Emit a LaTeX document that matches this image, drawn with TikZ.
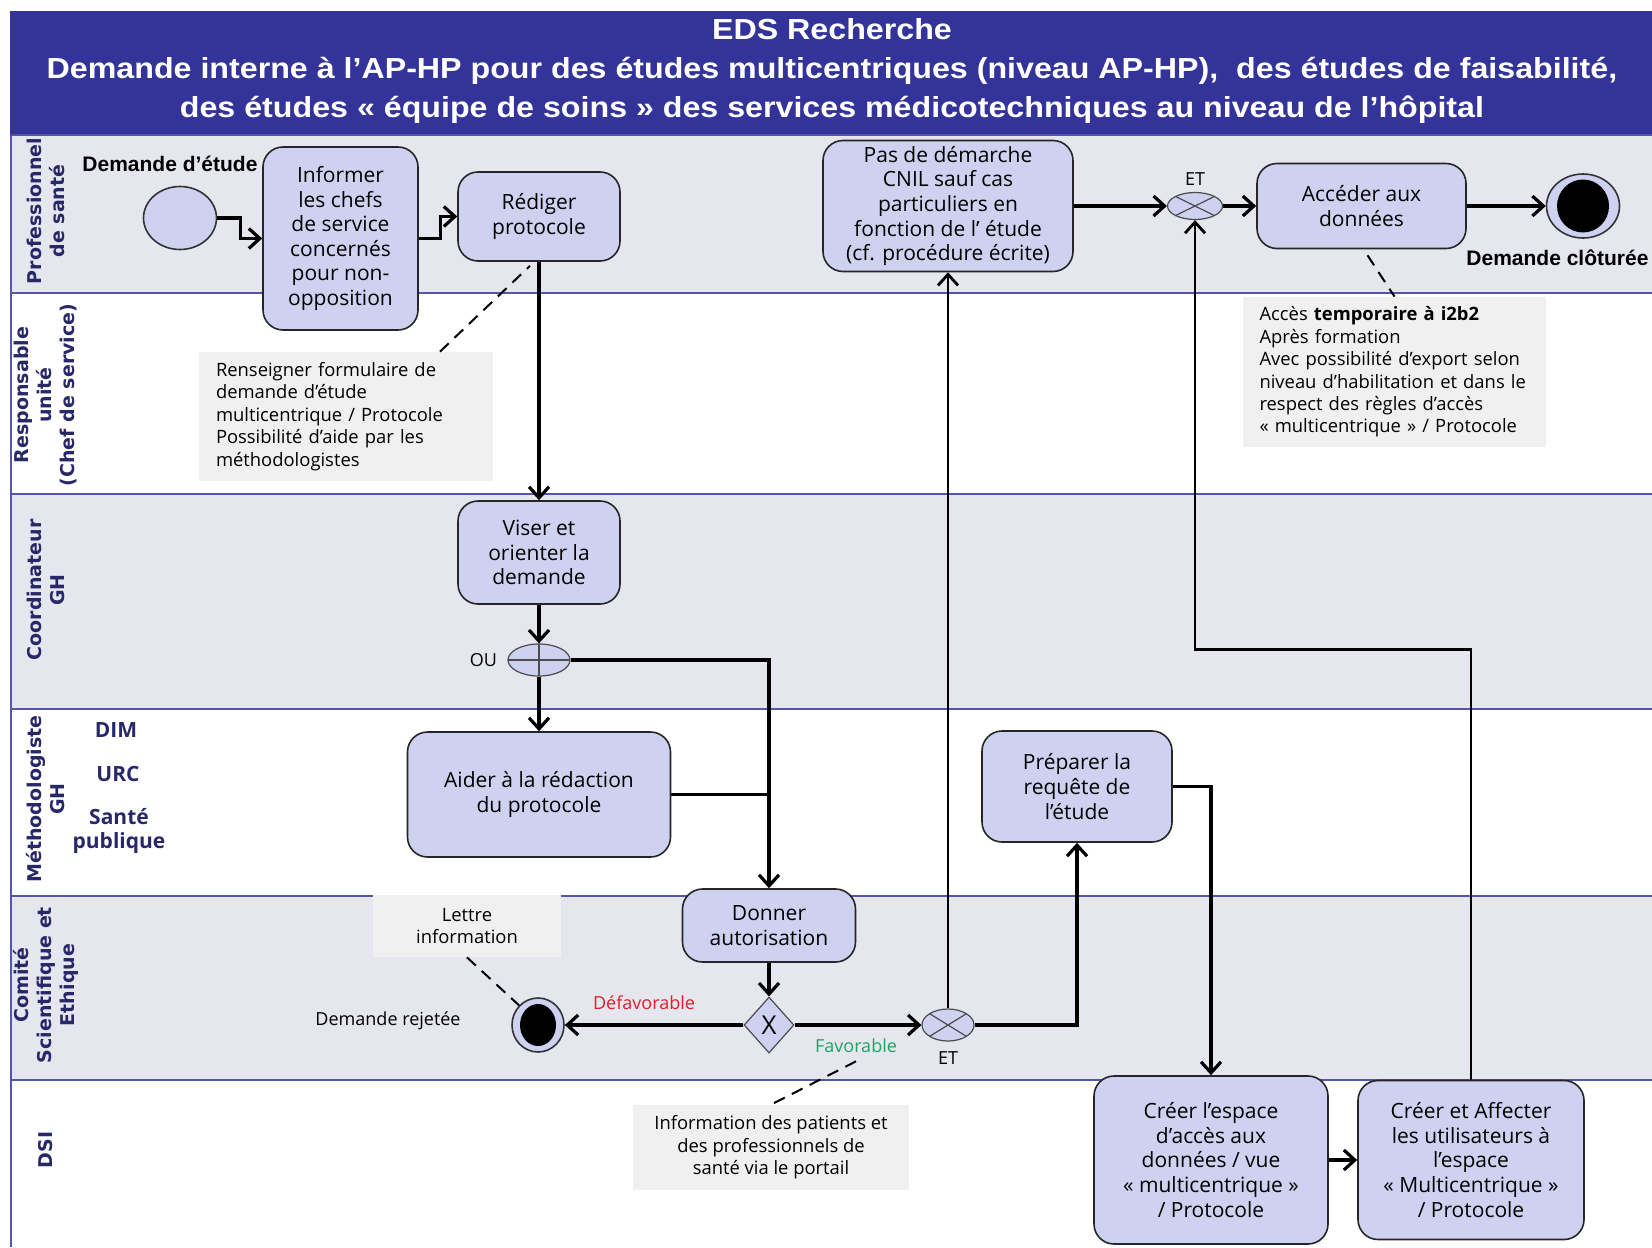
\documentclass[tikz,border=0pt]{standalone}
\usepackage{fontspec}
\setmainfont{Open Sans}
\newfontfamily\titrefont{Liberation Sans}
\newfontfamily\bandeaufont[FakeStretch=1.11]{Liberation Sans}
\newfontfamily\couloirfont{DejaVu Sans}
\usetikzlibrary{positioning,shapes.geometric,arrows.meta}

\definecolor{bandeau}{RGB}{51,51,153}
\definecolor{couloir}{RGB}{229,230,238}
\definecolor{trait}{RGB}{85,85,170}
\definecolor{lavande}{RGB}{207,209,240}
\definecolor{notegris}{RGB}{240,240,240}
\definecolor{marine}{RGB}{40,40,105}
\definecolor{rouge}{RGB}{225,30,40}
\definecolor{vert}{RGB}{30,165,100}

\tikzset{
		>={Straight Barb[length=5.5pt,width=10pt]},
		activite/.style={
			rectangle,
			rounded corners=10pt,
			fill=lavande,
			draw=black!85, line width=0.8pt,
			align=center,
			inner sep=2pt,
			font=\fontsize{10.5}{12.3}\selectfont},
		note/.style={
			rectangle,
			fill=notegris,
			font=\fontsize{9.2}{11.2}\selectfont},
		porte/.style={ellipse, draw=black!70, fill=lavande, line width=0.6pt, inner sep=0pt},
		porteet/.style={porte, path picture={
			\draw[black!70, line width=0.6pt] (path picture bounding box.north west) -- (path picture bounding box.south east)
				(path picture bounding box.north east) -- (path picture bounding box.south west);}},
		porteou/.style={porte, path picture={
			\draw[black!70, line width=0.6pt] (path picture bounding box.west) -- (path picture bounding box.east)
				(path picture bounding box.north) -- (path picture bounding box.south);}},
		xou/.style={diamond, draw=black!70, fill=lavande, line width=0.6pt, inner sep=0pt,
			font=\fontsize{13}{13}\selectfont},
		debutst/.style={ellipse, draw=black!80, fill=lavande, line width=0.8pt, inner sep=0pt},
		fin/.style 2 args={ellipse, draw=black!80, fill=lavande, line width=0.8pt, inner sep=0pt,
			path picture={\fill[black] (path picture bounding box.center) ellipse (#1 and #2);}},
		flux/.style={draw, line width=1.6pt, ->},
		lien/.style={draw, line width=1pt, dash pattern=on 6pt off 4pt},
		separation/.style={draw=trait, line width=1.2pt},
		couloirlbl/.style={rotate=90, align=center, text=marine,
			font=\couloirfont\bfseries\fontsize{9.5}{11.5}\selectfont},
		groupe/.style={align=center, text=marine, font=\bfseries\fontsize{10.5}{12}\selectfont},
		etiq/.style={font=\fontsize{9}{10}\selectfont, inner sep=1pt},
		etiqgras/.style={font=\titrefont\bfseries\fontsize{10.5}{12}\selectfont, inner sep=0pt},
		titre/.style={align=center, text=white, font=\bandeaufont\bfseries\fontsize{14.5}{19.5}\selectfont},
	}

\begin{document}
\begin{tikzpicture}[x=0.5pt, y=-0.5pt, node distance=2pt]
	\useasboundingbox (0,0) rectangle (1652,1247);

	%% bandeau et couloirs
	\fill[bandeau] (10,11) rectangle (1652,135);
	\node[titre] (titre) at (832,71) {EDS Recherche\\Demande interne à l’AP-HP pour des études multicentriques (niveau AP-HP),~ des études de faisabilité,\\des études « équipe de soins » des services médicotechniques au niveau de l’hôpital};
	\foreach \ya/\yb in {135/293,494/709,896/1080}
		\fill[couloir] (11,\ya) rectangle (1652,\yb);
	\foreach \y in {135,293,494,709,896,1080}
		\draw[separation] (11,\y) -- (1652,\y);
	\draw[separation] (11,135) -- (11,1247);
	\foreach \y/\nom in {211/{Professionnel\\de santé}, 395/{Responsable\\unité\\(Chef de service)},
			590/{Coordinateur\\GH}, 799/{Méthodologiste\\GH}, 985/{Comité\\Scientifique et\\Ethique}, 1150/{DSI}}
		\node[couloirlbl] (c\y) at (46,\y) {\nom};
	\node[groupe] (dim) at (116,730) {DIM};
	\node[groupe] (urc) at (118,774) {URC};
	\node[groupe] (sp) at (119,831) {Santé\\publique};

	%% activites
	\node[debutst, minimum width=36.5pt, minimum height=31.5pt] (debut) at (180,218) {};
	\node[etiqgras] (lbldebut) at (170,164) {Demande d’étude};
	\node[activite, minimum width=77.5pt, minimum height=91.5pt] (informer) at (340.5,238.5) {Informer\\les chefs\\de service\\concernés\\pour non-\\opposition};
	\node[activite, minimum width=81pt, minimum height=44.5pt] (rediger) at (539,216.5) {Rédiger\\protocole};
	\node[activite, minimum width=81pt, minimum height=51.5pt] (viser) at (539,552.5) {Viser et\\orienter la\\demande};
	\node[porteou, minimum width=31pt, minimum height=16pt] (ou) at (539,660) {};
	\node[etiq, left=4pt of ou] (lblou) {OU};
	\node[activite, minimum width=131.5pt, minimum height=62.5pt] (aider) at (539,794.5) {Aider à la rédaction\\du protocole};
	\node[activite, minimum width=86.5pt, minimum height=36.5pt] (donner) at (769,925.5) {Donner\\autorisation};
	\node[xou, minimum width=25pt, minimum height=28pt] (xou) at (769,1025) {X};
	\node[fin={9pt}{10.5pt}, minimum width=26pt, minimum height=27pt] (rejet) at (538,1025) {};
	\node[etiq] (lblrejet) at (388,1021) {Demande rejetée};
	\node[etiq, text=rouge] (defav) at (644,1003) {Défavorable};
	\node[etiq, text=vert] (fav) at (856,1046) {Favorable};
	\node[porteet, minimum width=26pt, minimum height=16pt] (et2) at (948,1025) {};
	\node[etiq, below=4pt of et2] (lblet2) {ET};
	\node[activite, minimum width=125pt, minimum height=65.5pt] (pas) at (948,206) {Pas de démarche\\CNIL sauf cas\\particuliers en\\fonction de l’ étude\\(cf. procédure écrite)};
	\node[porteet, minimum width=27.5pt, minimum height=13.5pt] (et1) at (1195,206) {};
	\node[etiq, above=2pt of et1] (lblet1) {ET};
	\node[activite, minimum width=104.5pt, minimum height=42.5pt] (acceder) at (1361.5,206) {Accéder aux\\données};
	\node[fin={13pt}{13.25pt}, minimum width=36.5pt, minimum height=32pt] (cloture) at (1583,206) {};
	\node[etiqgras, anchor=west] (lblcloture) at (1466,258) {Demande clôturée};
	\node[activite, minimum width=95pt, minimum height=55.5pt] (preparer) at (1077,786.5) {Préparer la\\requête de\\l’étude};
	\node[activite, minimum width=117pt, minimum height=84pt] (creer) at (1211,1160) {Créer l’espace\\d’accès aux\\données / vue\\« multicentrique »\\/ Protocole};
	\node[activite, minimum width=113pt, minimum height=79.5pt] (affecter) at (1471,1160) {Créer et Affecter\\les utilisateurs à\\l’espace\\« Multicentrique »\\/ Protocole};

	%% notes
	\node[note, text width=130pt, inner xsep=8.5pt, minimum height=64.5pt, align=left] (note1) at (346,416.5) {Renseigner formulaire de\\demande d’étude\\multicentrique / Protocole\\Possibilité d’aide par les\\méthodologistes};
	\node[note, text width=135pt, inner xsep=8.25pt, minimum height=75pt, align=left] (noteacces) at (1394.5,372) {Accès \textbf{temporaire à i2b2}\\Après formation\\Avec possibilité d’export selon\\niveau d’habilitation et dans le\\respect des règles d’accès\\« multicentrique » / Protocole};
	\node[note, minimum width=94pt, minimum height=31pt, align=center] (notelettre) at (467,926) {Lettre\\information};
	\node[note, minimum width=138pt, minimum height=42.5pt, align=center] (noteinfo) at (771,1147.5) {Information des patients et\\des professionnels de\\santé via le portail};

	%% flux
	\draw[flux] (debut.east) -- ++(23,0) |- (informer.west);
	\draw[flux] (informer.east) -- ++(22,0) |- (rediger.west);
	\draw[flux] (rediger) -- (viser);
	\draw[flux] (viser) -- (ou);
	\draw[flux] (ou) -- (aider);
	\draw[flux] (ou.east) -| (donner.north);
	\draw[flux, -] (aider.east) -- (aider.east -| donner.north);
	\draw[flux] (donner) -- (xou);
	\draw[flux] (xou) -- (rejet);
	\draw[flux] (xou) -- (et2);
	\draw[flux, line width=1.4pt] (et2) -- (pas);
	\draw[flux] (et2.east) -| (preparer.south);
	\draw[flux] (preparer.east) -| (creer.north);
	\draw[flux] (creer) -- (affecter);
	\draw[flux, line width=1.4pt] (affecter.north) -- ++(0,-430.5) -| (et1.south);
	\draw[flux] (pas) -- (et1);
	\draw[flux] (et1) -- (acceder);
	\draw[flux] (acceder) -- (cloture);

	%% liens vers les notes
	\draw[lien] ([xshift=47pt]note1.north) -- ([xshift=-4.5pt,yshift=-2pt]rediger.south);
	\draw[lien] ([xshift=3pt,yshift=-3pt]acceder.south) -- (noteacces.north);
	\draw[lien] (notelettre.south) -- (rejet.north west);
	\draw[lien] ([yshift=-3pt]fav.south) -- (noteinfo.north);
\end{tikzpicture}
\end{document}
